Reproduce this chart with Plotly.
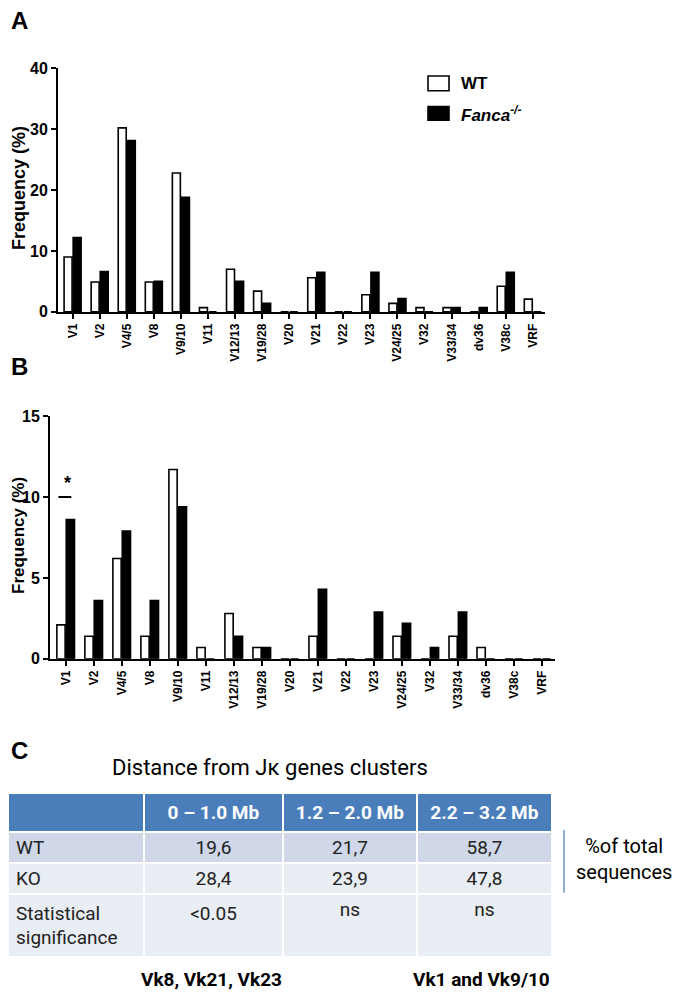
import plotly.graph_objects as go

# ---------------- data ----------------
categories = ["V1", "V2", "V4/5", "V8", "V9/10", "V11", "V12/13", "V19/28", "V20",
              "V21", "V22", "V23", "V24/25", "V32", "V33/34", "dv36", "V38c", "VRF"]
a_wt = [9.0, 4.9, 30.2, 4.9, 22.8, 0.7, 7.0, 3.4, 0, 5.6, 0, 2.8, 1.4, 0.7, 0.7, 0, 4.2, 2.1]
a_ko = [12.2, 6.6, 28.1, 5.0, 18.8, 0, 5.0, 1.4, 0, 6.5, 0, 6.5, 2.2, 0, 0.7, 0.7, 6.5, 0]
b_wt = [2.1, 1.4, 6.2, 1.4, 11.7, 0.7, 2.8, 0.7, 0, 1.4, 0, 0, 1.4, 0, 1.4, 0.7, 0, 0]
b_ko = [8.6, 3.6, 7.9, 3.6, 9.4, 0, 1.4, 0.7, 0, 4.3, 0, 2.9, 2.2, 0.7, 2.9, 0, 0, 0]
a_yticks = [0, 10, 20, 30, 40]
b_yticks = [0, 5, 10, 15]

table_header = ["", "0 – 1.0 Mb", "1.2 – 2.0 Mb", "2.2 – 3.2 Mb"]
row_labels = ["WT", "KO", "Statistical<br>significance"]
wt_pct = ["19,6", "21,7", "58,7"]
ko_pct = ["28,4", "23,9", "47,8"]
signif = ["&lt;0.05", "ns", "ns"]

# page body has an 8px default margin: map reference pixels onto the figure
OFF = 8
W, H = 685 - OFF, 1007 - OFF
def px(x):
    return (x - OFF) / W
def py(y):
    return 1 - (y - OFF) / H

BOLD = "Arial, Liberation Sans, sans-serif"
NARROW = "Roboto, Arial, sans-serif"

fig = go.Figure()

# Panel A
fig.add_trace(go.Bar(x=categories, y=a_wt, name="WT", xaxis="x", yaxis="y",
                     marker=dict(color="white", line=dict(color="black", width=1.6)),
                     showlegend=False))
fig.add_trace(go.Bar(x=categories, y=a_ko, name="Fanca-/-", xaxis="x", yaxis="y",
                     marker=dict(color="black", line=dict(color="black", width=1.6)),
                     showlegend=False))
# Panel B
fig.add_trace(go.Bar(x=categories, y=b_wt, name="WT", xaxis="x2", yaxis="y2",
                     marker=dict(color="white", line=dict(color="black", width=1.6)),
                     showlegend=False))
fig.add_trace(go.Bar(x=categories, y=b_ko, name="Fanca-/-", xaxis="x2", yaxis="y2",
                     marker=dict(color="black", line=dict(color="black", width=1.6)),
                     showlegend=False))

# Table (panel C)
cell_cols = [row_labels] + [[wt_pct[i], ko_pct[i], signif[i]] for i in range(3)]
row_fill = ["#cfd7e8", "#e9edf4", "#e9edf4"]
fig.add_trace(go.Table(
    domain=dict(x=[px(8), px(552)], y=[0, py(798)]),
    columnwidth=[136, 139, 134, 135],
    header=dict(values=["<b>%s</b>" % h if h else " " for h in table_header],
                fill_color="#4a7ebb",
                line=dict(color="white", width=2),
                font=dict(color="white", size=19, family=NARROW),
                align="center", height=34),
    cells=dict(values=cell_cols,
               fill_color=[row_fill] * 4,
               line=dict(color="white", width=2),
               font=dict(color="#222222", size=19, family=NARROW),
               align=["left", "center", "center", "center"], height=31),
))

axis_common = dict(showline=True, linecolor="black", linewidth=2, ticks="outside",
                   ticklen=5, tickwidth=2, tickcolor="black", showgrid=False,
                   zeroline=False)

fig.update_layout(
    width=W, height=H,
    margin=dict(l=0, r=0, t=0, b=0),
    paper_bgcolor="white", plot_bgcolor="white",
    barmode="group", bargap=0.33, bargroupgap=0.12,
    xaxis=dict(domain=[px(58), px(545)], anchor="y", type="category",
               range=[-0.54, 17.45], tickangle=-90,
               tickfont=dict(family=BOLD, size=12, weight="bold", color="black"),
               **axis_common),
    yaxis=dict(domain=[py(309), py(61)], anchor="x", range=[0, 40],
               tickvals=a_yticks,
               tickfont=dict(family=BOLD, size=16, weight="bold", color="black"),
               **axis_common),
    xaxis2=dict(domain=[px(50), px(555)], anchor="y2", type="category",
                range=[-0.56, 17.47], tickangle=-90,
                tickfont=dict(family=BOLD, size=12, weight="bold", color="black"),
                **axis_common),
    yaxis2=dict(domain=[py(662), py(415)], anchor="x2", range=[0, 15],
                tickvals=b_yticks,
                tickfont=dict(family=BOLD, size=16, weight="bold", color="black"),
                **axis_common),
    font=dict(family=BOLD, color="black"),
)

ann = []
def add_text(text, x, y, size, xanchor="center", yanchor="middle", bold=False,
             italic=False, family=BOLD, angle=0, color="black", xref="paper", yref="paper"):
    ann.append(dict(text=text, x=x, y=y, xref=xref, yref=yref, showarrow=False,
                    xanchor=xanchor, yanchor=yanchor, textangle=angle,
                    font=dict(size=size, family=family, color=color,
                              weight="bold" if bold else "normal",
                              style="italic" if italic else "normal")))

add_text("A", px(9), py(13), 24, xanchor="left", bold=True)
add_text("B", px(9), py(365), 24, xanchor="left", bold=True)
add_text("C", px(9), py(755), 24, xanchor="left", bold=True)
add_text("Frequency (%)", px(19), py(183), 18, bold=True, angle=-90)
add_text("Frequency (%)", px(19), py(537), 17, bold=True, angle=-90)
add_text("WT", px(459), py(77), 17, xanchor="left", bold=True)
add_text("Fanca<sup>-/-</sup>", px(459), py(108), 17, xanchor="left", bold=True, italic=True)
add_text("*", 0.08, 10.1, 18, yanchor="bottom", bold=True, xref="x2", yref="y2")
add_text("Distance from J\u03ba genes clusters", px(270), py(773), 22, family=NARROW)
add_text("%of total<br>sequences", px(624), py(866), 20, family=NARROW)
add_text("Vk8, Vk21, Vk23", px(211), py(988), 19, bold=True, family=NARROW)
add_text("Vk1 and Vk9/10", px(481), py(988), 19, bold=True, family=NARROW)

shapes = [
    dict(type="rect", xref="paper", yref="paper", x0=px(428), x1=px(449), y0=py(84), y1=py(69),
         fillcolor="white", line=dict(color="black", width=1.6)),
    dict(type="rect", xref="paper", yref="paper", x0=px(428), x1=px(449), y0=py(114), y1=py(100),
         fillcolor="black", line=dict(color="black", width=1.6)),
    dict(type="line", xref="x2", yref="y2", x0=-0.26, x1=0.2, y0=10, y1=10,
         line=dict(color="black", width=2)),
    dict(type="line", xref="paper", yref="paper", x0=px(564), x1=px(564), y0=py(900), y1=py(836),
         line=dict(color="#4a7ebb", width=1.2)),
]

fig.update_layout(annotations=ann, shapes=shapes)
fig.write_html("out.html")
